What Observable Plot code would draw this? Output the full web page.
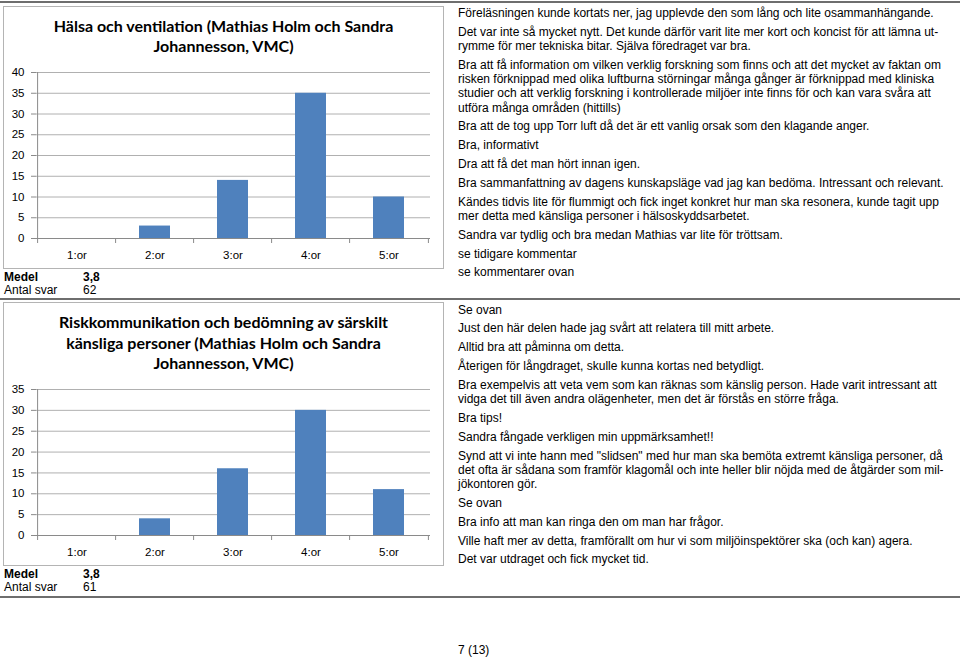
<!DOCTYPE html>
<html><head><meta charset="utf-8">
<script src="https://cdn.jsdelivr.net/npm/d3@7"></script>
<script src="https://cdn.jsdelivr.net/npm/@observablehq/plot@0.6"></script>
<style>
html,body{margin:0;padding:0;background:#fff;}
#page{position:relative;width:960px;height:658px;overflow:hidden;font-family:"Liberation Sans",Arial,sans-serif;color:#000;}
.hline{position:absolute;left:0;width:960px;height:2px;background:#6e6e6e;}
.frame{position:absolute;box-sizing:border-box;border:1px solid #b4b4b4;}
.title{position:absolute;text-align:center;font-family:Lato,sans-serif;font-weight:700;font-size:16px;line-height:20.6px;color:#000;white-space:nowrap;}
.chart{position:absolute;}
.stats{position:absolute;left:4px;font-size:12px;line-height:13px;white-space:nowrap;}
.stats .lab{display:inline-block;width:79px;}
.comments{position:absolute;left:458px;font-size:12px;line-height:14.2px;white-space:nowrap;}
.comments p{margin:0 0 4.65px 0;}
.pnum{position:absolute;left:458px;font-size:12px;line-height:14px;}
</style></head>
<body>
<div id="page">
  <div class="hline" style="top:1px"></div>
  <div class="hline" style="top:298px"></div>
  <div class="hline" style="top:596px"></div>

  <div class="frame" style="left:3px;top:6px;width:441px;height:263px"></div>
  <div class="title" id="t1" style="left:3px;top:15.5px;width:441px"></div>
  <div class="chart" id="c1" style="left:3px;top:60px"></div>
  <div class="stats" id="s1" style="top:271px"></div>

  <div class="frame" style="left:3px;top:302px;width:441px;height:264px"></div>
  <div class="title" id="t2" style="left:3px;top:312.3px;width:441px"></div>
  <div class="chart" id="c2" style="left:3px;top:377px"></div>
  <div class="stats" id="s2" style="top:568px"></div>

  <div class="comments" id="k1" style="top:6px"></div>
  <div class="comments" id="k2" style="top:302.5px"></div>
  <div class="pnum" style="top:643px">7 (13)</div>
</div>
<script>
// ---- data ----
const categories = ["1:or", "2:or", "3:or", "4:or", "5:or"];
const halsaValues = [0, 3, 14, 35, 10];
const riskValues = [0, 4, 16, 30, 11];
const halsaTicks = [0, 5, 10, 15, 20, 25, 30, 35, 40];
const riskTicks = [0, 5, 10, 15, 20, 25, 30, 35];
const halsaTitle = ["Hälsa och ventilation (Mathias Holm och Sandra", "Johannesson, VMC)"];
const riskTitle = ["Riskkommunikation och bedömning av särskilt", "känsliga personer (Mathias Holm och Sandra", "Johannesson, VMC)"];
const halsaStats = [["Medel", "3,8"], ["Antal svar", "62"]];
const riskStats = [["Medel", "3,8"], ["Antal svar", "61"]];
const halsaComments = [
  ["Föreläsningen kunde kortats ner, jag upplevde den som lång och lite osammanhängande."],
  ["Det var inte så mycket nytt. Det kunde därför varit lite mer kort och koncist för att lämna ut-", "rymme för mer tekniska bitar. Själva föredraget var bra."],
  ["Bra att få information om vilken verklig forskning som finns och att det mycket av faktan om", "risken förknippad med olika luftburna störningar många gånger är förknippad med kliniska", "studier och att verklig forskning i kontrollerade miljöer inte finns för och kan vara svåra att", "utföra många områden (hittills)"],
  ["Bra att de tog upp Torr luft då det är ett vanlig orsak som den klagande anger."],
  ["Bra, informativt"],
  ["Dra att få det man hört innan igen."],
  ["Bra sammanfattning av dagens kunskapsläge vad jag kan bedöma. Intressant och relevant."],
  ["Kändes tidvis lite för flummigt och fick inget konkret hur man ska resonera, kunde tagit upp", "mer detta med känsliga personer i hälsoskyddsarbetet."],
  ["Sandra var tydlig och bra medan Mathias var lite för tröttsam."],
  ["se tidigare kommentar"],
  ["se kommentarer ovan"]
];
const riskComments = [
  ["Se ovan"],
  ["Just den här delen hade jag svårt att relatera till mitt arbete."],
  ["Alltid bra att påminna om detta."],
  ["Återigen för långdraget, skulle kunna kortas ned betydligt."],
  ["Bra exempelvis att veta vem som kan räknas som känslig person. Hade varit intressant att", "vidga det till även andra olägenheter, men det är förstås en större fråga."],
  ["Bra tips!"],
  ["Sandra fångade verkligen min uppmärksamhet!!"],
  ["Synd att vi inte hann med \"slidsen\" med hur man ska bemöta extremt känsliga personer, då", "det ofta är sådana som framför klagomål och inte heller blir nöjda med de åtgärder som mil-", "jökontoren gör."],
  ["Se ovan"],
  ["Bra info att man kan ringa den om man har frågor."],
  ["Ville haft mer av detta, framförallt om hur vi som miljöinspektörer ska (och kan) agera."],
  ["Det var utdraget och fick mycket tid."]
];

// ---- helpers ----
function fillLines(el, lines) {
  lines.forEach((l, i) => {
    if (i) el.appendChild(document.createElement("br"));
    el.appendChild(document.createTextNode(l));
  });
}
function fillStats(el, rows) {
  rows.forEach((r, i) => {
    const d = document.createElement("div");
    const a = document.createElement("span"); a.className = "lab"; a.textContent = r[0];
    const b = document.createElement("span"); b.textContent = r[1];
    if (i === 0) { a.style.fontWeight = "700"; b.style.fontWeight = "700"; }
    d.appendChild(a); d.appendChild(b); el.appendChild(d);
  });
}
function fillComments(el, list) {
  list.forEach(lines => { const p = document.createElement("p"); fillLines(p, lines); el.appendChild(p); });
}

const W = 440, ML = 33, MR = 13, MT = 12, MB = 28;
const step = (W - ML - MR) / categories.length;
const axisColor = "#8a8a8a", gridColor = "#b0b0b0", barColor = "#4F81BD";

function barChart(values, ticks, height) {
  const data = categories.map((c, i) => ({cat: c, value: values[i]}));
  const yMax = ticks[ticks.length - 1];
  return Plot.plot({
    width: W, height,
    marginLeft: ML, marginRight: MR, marginTop: MT, marginBottom: MB,
    style: {fontFamily: "'Liberation Sans', Arial, sans-serif", fontSize: "11.5px", color: "#000", background: "transparent", overflow: "visible"},
    x: {domain: categories, paddingInner: 0.6, paddingOuter: 0.3},
    y: {domain: [0, yMax]},
    marks: [
      Plot.ruleY(ticks.filter(t => t > 0), {stroke: gridColor, strokeWidth: 1}),
      Plot.barY(data, {x: "cat", y: "value", fill: barColor}),
      Plot.ruleY([0], {stroke: axisColor}),
      Plot.ruleX([categories[0]], {x: d => d, dx: -step / 2, y1: 0, y2: yMax, stroke: axisColor}),
      Plot.ruleX(categories, {x: d => d, dx: -step / 2, y1: 0, y2: 0, insetBottom: -5, stroke: axisColor}),
      Plot.ruleX([categories[categories.length - 1]], {x: d => d, dx: step / 2, y1: 0, y2: 0, insetBottom: -5, stroke: axisColor}),
      Plot.axisY({ticks, tickSize: 5, tickPadding: 7, stroke: axisColor, label: null}),
      Plot.axisX({tickSize: 0, tickPadding: 12, label: null})
    ]
  });
}

fillLines(document.getElementById("t1"), halsaTitle);
fillLines(document.getElementById("t2"), riskTitle);
document.getElementById("c1").appendChild(barChart(halsaValues, halsaTicks, 206));
document.getElementById("c2").appendChild(barChart(riskValues, riskTicks, 186));
fillStats(document.getElementById("s1"), halsaStats);
fillStats(document.getElementById("s2"), riskStats);
fillComments(document.getElementById("k1"), halsaComments);
fillComments(document.getElementById("k2"), riskComments);
</script>
</body></html>
